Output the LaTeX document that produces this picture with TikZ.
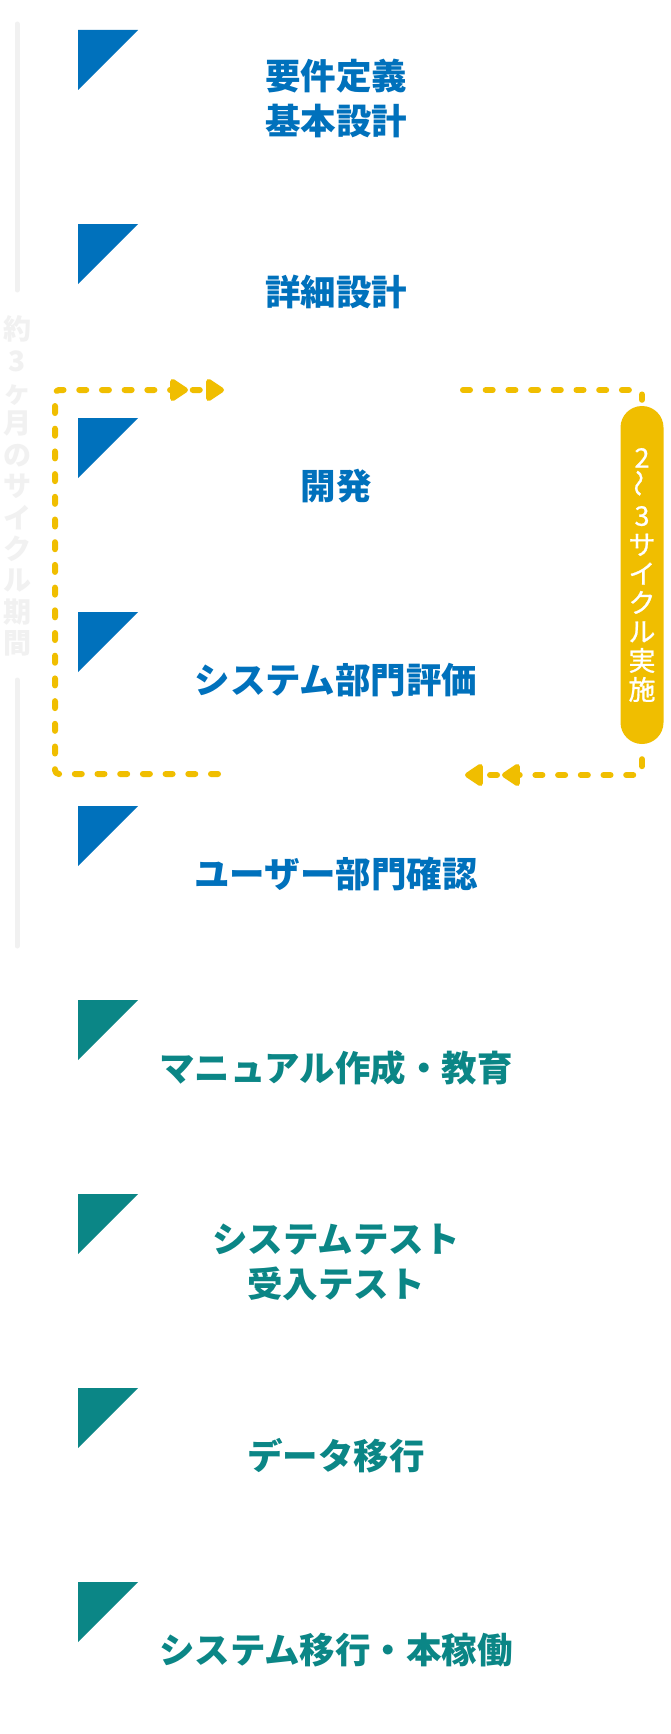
\documentclass[tikz,border=0pt]{standalone}
\usepackage{fontspec}
\setmainfont{Noto Sans CJK JP}
\newfontfamily\pillfont[FakeBold=0.8]{Noto Sans CJK JP}
\usetikzlibrary{arrows.meta,decorations.markings}
\definecolor{stepblue}{HTML}{0071BC}
\definecolor{stepteal}{HTML}{0B8686}
\definecolor{cycleyellow}{HTML}{F0BE00}
\definecolor{faintgray}{HTML}{F1F1F1}
\begin{document}
\begin{tikzpicture}[x=1pt, y=-1pt, line join=round, line cap=round,
	steplabel/.style={font=\fontsize{35.5}{45}\selectfont\bfseries, align=center, inner sep=0pt},
	cyclepath/.style={cycleyellow, line width=6pt, dash pattern=on 7pt off 15.7pt, rounded corners=4pt},
	cycletip/.style={-{Triangle[length=20pt,width=25pt,round]}},
	secondtip/.style={postaction={decorate, decoration={markings, mark=at position #1 with {\arrow{Triangle[length=20pt,width=25pt,round]}}}}}]
	\useasboundingbox (0,0) rectangle (670,1734);
	\fill[white] (0,0) rectangle (670,1734);
	\draw[faintgray, line width=5pt] (17,24) -- (17,290) (17,680) -- (17,946);
	\node[faintgray, font=\fontsize{28}{31.4}\selectfont\bfseries, align=center, inner sep=0pt] (period) at (17,486) {約\\3\\ヶ\\月\\の\\サ\\イ\\ク\\ル\\期\\間};
	\foreach \i/\c/\t in {0/stepblue/{要件定義\\基本設計}, 1/stepblue/詳細設計, 2/stepblue/開発, 3/stepblue/システム部門評価, 4/stepblue/ユーザー部門確認, 5/stepteal/マニュアル作成・教育, 6/stepteal/{システムテスト\\受入テスト}, 7/stepteal/データ移行, 8/stepteal/システム移行・本稼働}{
		\fill[\c] (78,30+194*\i) -- ++(60,0) -- ++(-60,60) -- cycle;
		\node[steplabel, text=\c] (step\i) at (336,98+194*\i) {\t};
	}
	\node[fill=cycleyellow, rounded corners=21.5pt, minimum width=43pt, minimum height=338pt, inner sep=0pt, text=white, font=\pillfont\fontsize{27}{29}\selectfont, align=center] (cycle) at (642,575) {2\\\rotatebox{90}{〜}\\3\\サ\\イ\\ク\\ル\\実\\施};
	\path
	(218,774) coordinate (loopL)
	(55,390) coordinate (loopC)
	(224,390) coordinate (loopT)
	(463,390) coordinate (loopR)
	(465,775) coordinate (loopB);
	\draw[cyclepath, cycletip, secondtip=-36pt] (loopL) -| (loopC) -- (loopT);
	\draw[cyclepath] (loopR) -| ([yshift=6pt]cycle.north);
	\draw[cyclepath, cycletip, secondtip=-37pt] ([yshift=-15pt]cycle.south) |- (loopB);
\end{tikzpicture}
\end{document}
